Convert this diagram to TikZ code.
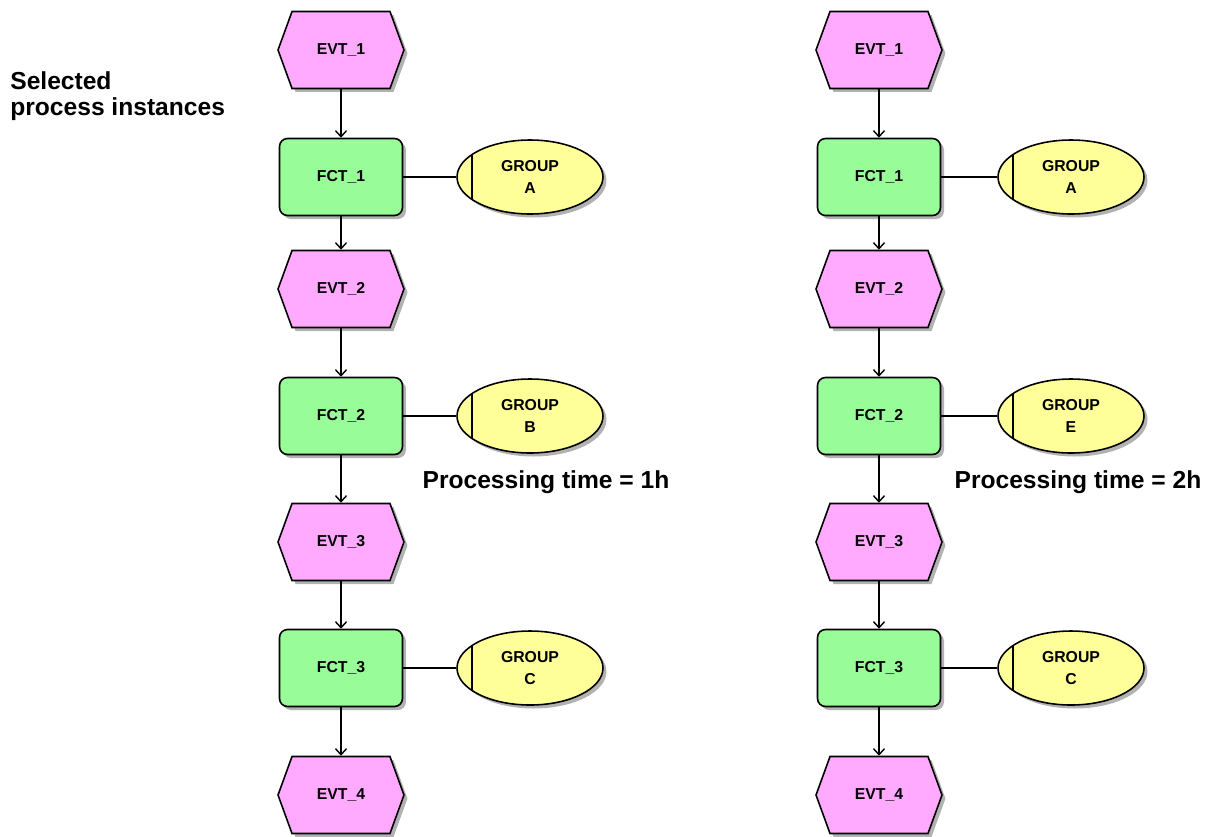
\documentclass[tikz,border=0pt]{standalone}
\usepackage{fontspec}
\setmainfont{Liberation Sans}
\usetikzlibrary{shapes.symbols, shapes.geometric, arrows.meta, shadows}

\definecolor{evtpink}{RGB}{255,170,255}
\definecolor{fctgreen}{RGB}{152,252,152}
\definecolor{grpyellow}{RGB}{255,255,153}

\begin{document}
\begin{tikzpicture}[
        x=0.02cm, y=-0.02cm,
        boxshadow/.style={drop shadow={shadow xshift=0.07cm, shadow yshift=-0.07cm, opacity=0.3, fill=black}},
        evt/.style={signal, signal to=east and west, signal pointer angle=140, draw, line width=0.9pt, fill=evtpink, minimum width=2.52cm, minimum height=1.54cm, inner sep=0pt, font=\fontsize{9}{11}\selectfont\bfseries, boxshadow},
        fct/.style={rectangle, rounded corners=0.16cm, draw, line width=0.9pt, fill=fctgreen, minimum width=2.46cm, minimum height=1.54cm, inner sep=0pt, font=\fontsize{9}{11}\selectfont\bfseries, boxshadow},
        grp/.style={ellipse, draw, line width=0.9pt, fill=grpyellow, minimum width=2.92cm, minimum height=1.48cm, inner sep=0pt, align=center, font=\fontsize{9}{12.5}\selectfont\bfseries, boxshadow,
            path picture={\draw[line width=0.9pt] ([xshift=0.3cm]path picture bounding box.north west) -- ([xshift=0.3cm]path picture bounding box.south west);}},
        arrow/.style={-{Straight Barb[length=1.2mm, width=2.2mm]}, line width=0.8pt},
        link/.style={line width=0.8pt}
    ]
        \useasboundingbox (0,0) rectangle (1210,836);

        % Caption
        \node[anchor=north west, align=left, inner sep=0pt, font=\fontsize{14}{14.8}\selectfont\bfseries] (title) at (10,71) {Selected\\process instances};

        % Two process instances
        \foreach \col/\cx/\gx/\gb/\px/\t in {l/341/530/B/546/1h, r/879/1071/E/1078/2h} {
            % Events
            \node[evt] (evt1\col) at (\cx, 50) {EVT\_1};
            \node[evt] (evt2\col) at (\cx, 289) {EVT\_2};
            \node[evt] (evt3\col) at (\cx, 542) {EVT\_3};
            \node[evt] (evt4\col) at (\cx, 795) {EVT\_4};

            % Functions
            \node[fct] (fct1\col) at (\cx, 177) {FCT\_1};
            \node[fct] (fct2\col) at (\cx, 416) {FCT\_2};
            \node[fct] (fct3\col) at (\cx, 668) {FCT\_3};

            % Groups
            \node[grp] (grp1\col) at (\gx, 177) {GROUP\\A};
            \node[grp] (grp2\col) at (\gx, 416) {GROUP\\\gb};
            \node[grp] (grp3\col) at (\gx, 668) {GROUP\\C};

            % Flow
            \draw[arrow] (evt1\col.south) -- (fct1\col.north);
            \draw[arrow] (fct1\col.south) -- (evt2\col.north);
            \draw[arrow] (evt2\col.south) -- (fct2\col.north);
            \draw[arrow] (fct2\col.south) -- (evt3\col.north);
            \draw[arrow] (evt3\col.south) -- (fct3\col.north);
            \draw[arrow] (fct3\col.south) -- (evt4\col.north);

            % Assignments
            \foreach \i in {1,2,3} {
                \draw[link] (fct\i\col.east) -- (grp\i\col.west);
            }

            % Time
            \node[anchor=base, font=\fontsize{14}{16}\selectfont\bfseries] (time\col) at (\px, 488) {Processing time = \t};
        }
    \end{tikzpicture}
\end{document}
